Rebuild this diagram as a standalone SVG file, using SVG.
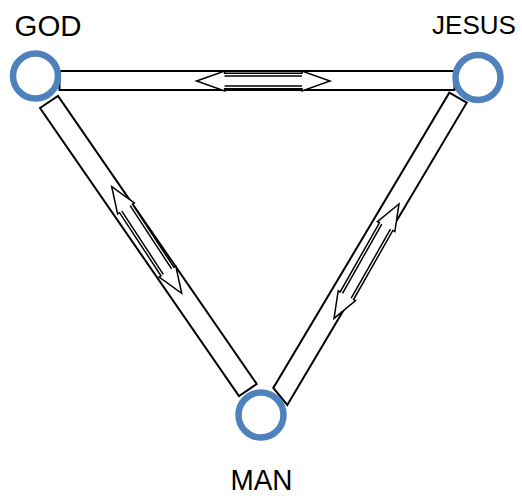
<svg xmlns="http://www.w3.org/2000/svg" width="522" height="496" viewBox="0 0 522 496">
<style>
.bar{fill:#fff;stroke:#000;stroke-width:2;stroke-linejoin:miter}
.arr{fill:#fff;stroke:#000;stroke-width:1.5;stroke-linejoin:miter}
.node{fill:#fff;stroke:#4F81BD;stroke-width:6.5}
.lbl{font-family:"Liberation Sans",Arial,sans-serif;font-size:30px;fill:#000;text-anchor:middle}
</style>
<rect width="522" height="496" fill="#fff"/>
<g id="connectors">
<polygon class="bar" points="59.5,71 454.5,71 454.5,90 59.5,90"/>
<polygon class="bar" points="40,108 58,96 256.7,384 239,396"/>
<polygon class="bar" points="449.3,92.7 466.7,102.7 287.3,405 273.3,388"/>
<g transform="translate(263.3,81)">
<path class="arr" d="M-66.7,0 L-38.7,-10 L-38.7,-7.7 L38.7,-7.7 L38.7,-10 L66.7,0 L38.7,10 L38.7,7.7 L-38.7,7.7 L-38.7,10 Z"/>
<path class="arr" d="M-38.7,-5 H38.7 M-38.7,5 H38.7"/>
</g>
<g transform="translate(146.7,240) rotate(56.7)">
<path class="arr" d="M-63.75,0 L-37.75,-10 L-37.75,-7.7 L37.75,-7.7 L37.75,-10 L63.75,0 L37.75,10 L37.75,7.7 L-37.75,7.7 L-37.75,10 Z"/>
<path class="arr" d="M-37.75,-5 H37.75 M-37.75,5 H37.75"/>
</g>
<g transform="translate(366.5,261.2) rotate(-60.4)">
<path class="arr" d="M-65.75,0 L-39.75,-10 L-39.75,-7.7 L39.75,-7.7 L39.75,-10 L65.75,0 L39.75,10 L39.75,7.7 L-39.75,7.7 L-39.75,10 Z"/>
<path class="arr" d="M-39.75,-5 H39.75 M-39.75,5 H39.75"/>
</g>
</g>
<g id="god">
<circle class="node" cx="35.5" cy="76" r="22.5"/>
<text class="lbl" x="48" y="36" textLength="67" lengthAdjust="spacingAndGlyphs">GOD</text>
</g>
<g id="jesus">
<circle class="node" cx="478" cy="77.5" r="22.5"/>
<text class="lbl" x="474" y="34" style="font-size:26px">JESUS</text>
</g>
<g id="man">
<circle class="node" cx="261" cy="415" r="22.5"/>
<text class="lbl" x="261.5" y="490" textLength="62" lengthAdjust="spacingAndGlyphs">MAN</text>
</g>
</svg>
